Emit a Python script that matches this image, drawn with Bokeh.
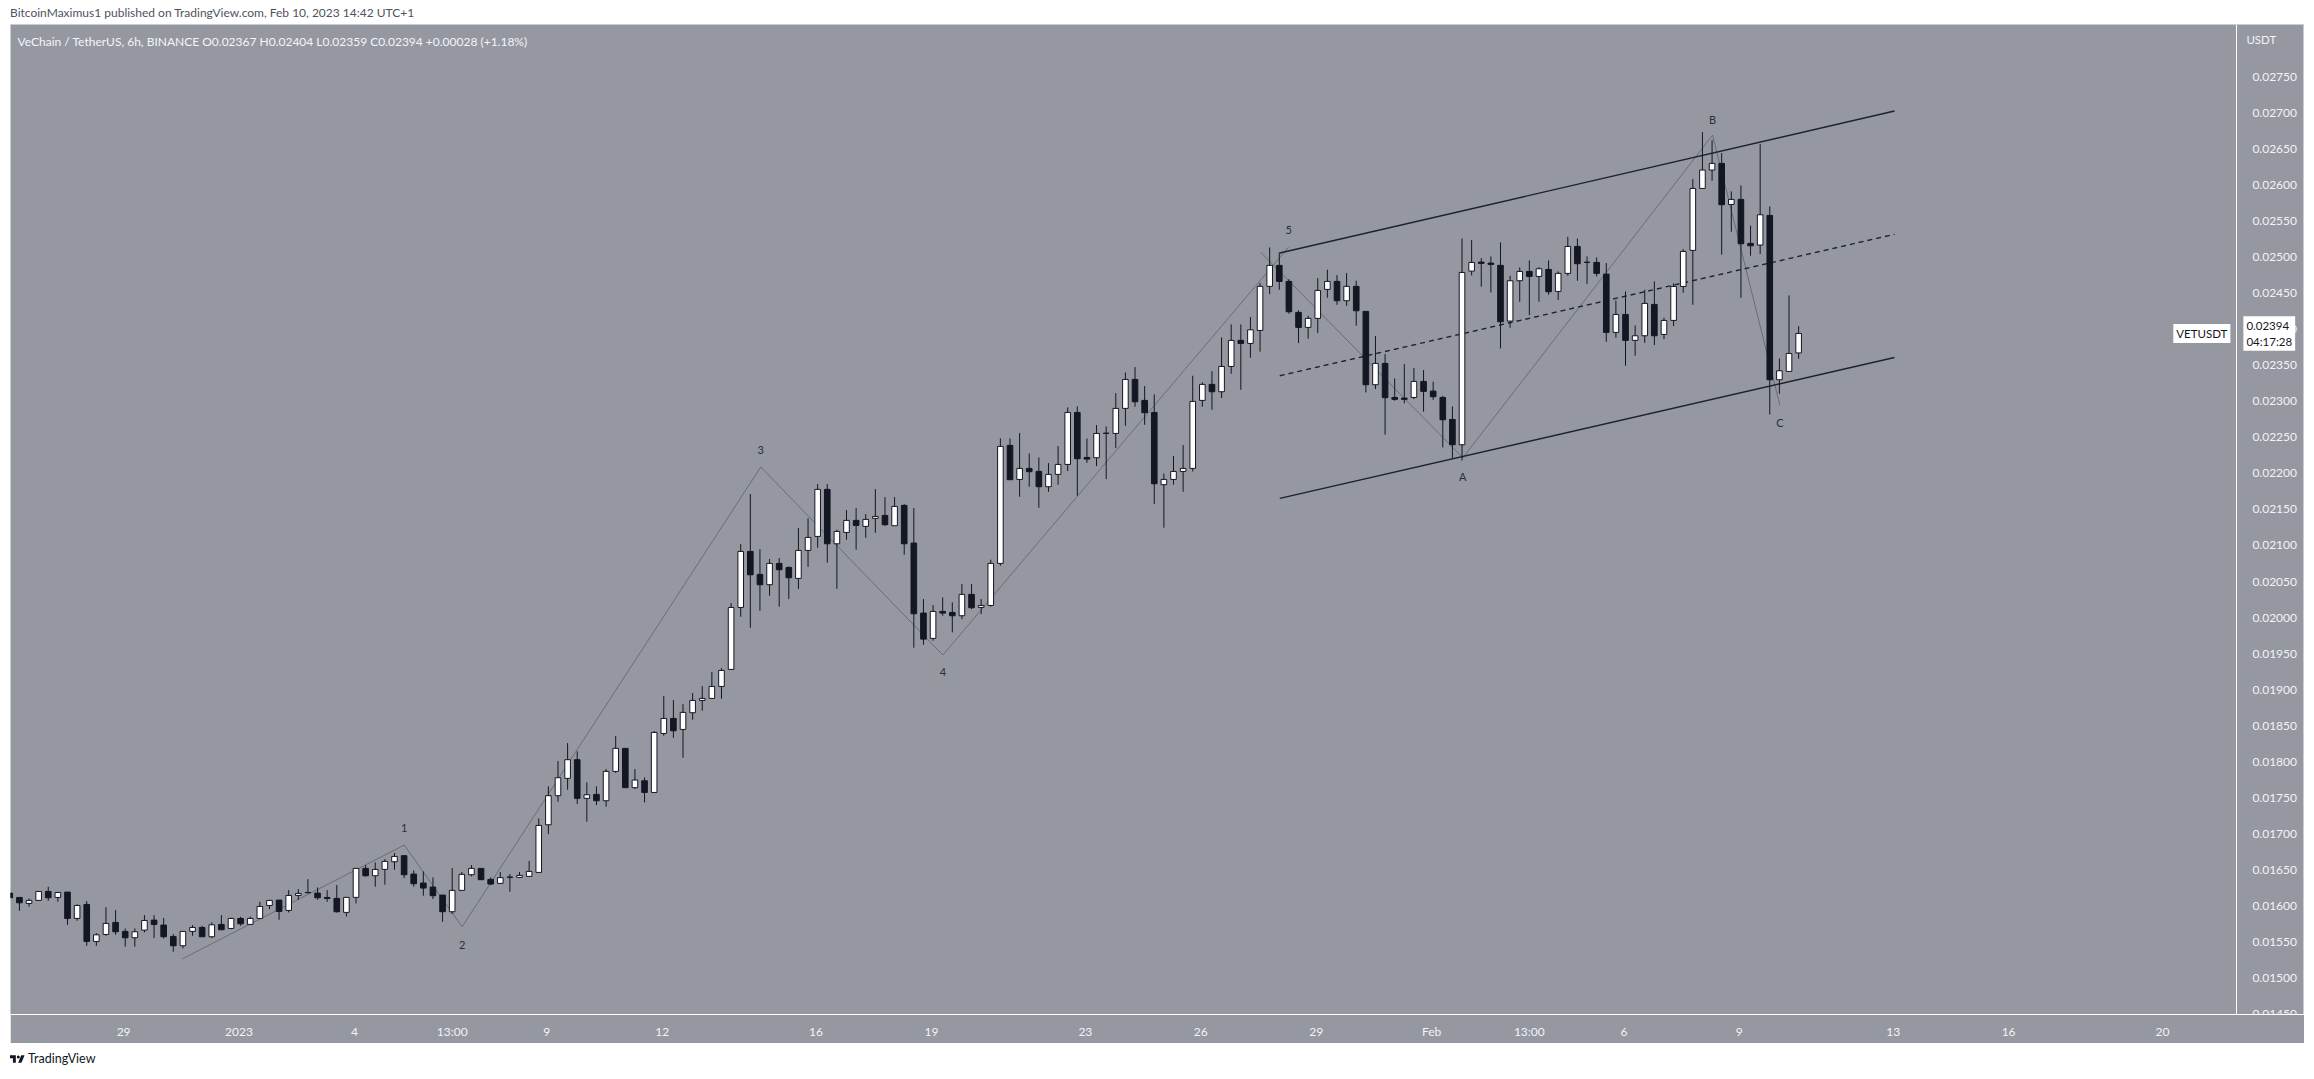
from bokeh.plotting import figure
from bokeh.models import (Range1d, FixedTicker, PrintfTickFormatter, Label, Div,
                          ColumnDataSource)
from bokeh.layouts import column
from bokeh.embed import file_html
from bokeh.resources import INLINE
from bokeh.core.properties import value

# ---------------- data (VET/USDT, 6h candles from Dec 26 01:00 UTC+1) ----------------
opens = [0.016180, 0.016120, 0.016037, 0.016079, 0.016203, 0.016120, 0.016194, 0.015829, 0.016023, 0.015510,
         0.015607, 0.015774, 0.015649, 0.015561, 0.015667, 0.015806, 0.015737, 0.015579, 0.015450, 0.015649,
         0.015704, 0.015575, 0.015746, 0.015690, 0.015829, 0.015746, 0.015829, 0.016009, 0.016083, 0.015940,
         0.016148, 0.016189, 0.016180, 0.016120, 0.016107, 0.015913, 0.016121, 0.016523, 0.016421, 0.016509,
         0.016615, 0.016699, 0.016444, 0.016320, 0.016264, 0.016153, 0.015922, 0.016218, 0.016435, 0.016523,
         0.016370, 0.016315, 0.016398, 0.016398, 0.016412, 0.016467, 0.017128, 0.017531, 0.017771, 0.018030,
         0.017494, 0.017549, 0.017461, 0.017868, 0.018187, 0.017642, 0.017738, 0.017576, 0.018394, 0.018602,
         0.018450, 0.018681, 0.018852, 0.018880, 0.019046, 0.019282, 0.020141, 0.020918, 0.020599, 0.020456,
         0.020752, 0.020696, 0.020544, 0.020932, 0.021126, 0.021778, 0.021024, 0.021181, 0.021348, 0.021265,
         0.021376, 0.021417, 0.021274, 0.021556, 0.021034, 0.020063, 0.019712, 0.020086, 0.020072, 0.020026,
         0.020322, 0.020141, 0.020169, 0.020752, 0.022388, 0.021916, 0.022069, 0.022027, 0.021815, 0.021986,
         0.022124, 0.022845, 0.022221, 0.022217, 0.022554, 0.022554, 0.022901, 0.023303, 0.023012, 0.022845,
         0.021843, 0.021916, 0.022027, 0.022069, 0.023012, 0.023234, 0.023132, 0.023483, 0.023844, 0.023802,
         0.023982, 0.024593, 0.024884, 0.024662, 0.024232, 0.024024, 0.024149, 0.024551, 0.024662, 0.024394,
         0.024593, 0.024246, 0.023229, 0.023525, 0.023053, 0.023044, 0.023053, 0.023275, 0.023141, 0.023053,
         0.022748, 0.022397, 0.024805, 0.024930, 0.024916, 0.024884, 0.024112, 0.024671, 0.024800, 0.024731,
         0.024828, 0.024523, 0.024773, 0.025147, 0.024925, 0.024925, 0.024763, 0.023955, 0.024204, 0.023844,
         0.023908, 0.024343, 0.023927, 0.024121, 0.024592, 0.025092, 0.025951, 0.026206, 0.026298, 0.025729,
         0.025799, 0.025189, 0.025166, 0.025577, 0.023298, 0.023414, 0.023670]
highs = [0.016180, 0.016120, 0.016106, 0.016203, 0.016268, 0.016189, 0.016194, 0.016023, 0.016069, 0.015626,
         0.015986, 0.015944, 0.015690, 0.015690, 0.015875, 0.015875, 0.015834, 0.015612, 0.015649, 0.015737,
         0.015727, 0.015774, 0.015875, 0.015840, 0.015852, 0.015855, 0.016060, 0.016085, 0.016083, 0.016222,
         0.016236, 0.016374, 0.016259, 0.016222, 0.016292, 0.016121, 0.016523, 0.016569, 0.016606, 0.016652,
         0.016736, 0.016708, 0.016495, 0.016481, 0.016398, 0.016153, 0.016528, 0.016472, 0.016569, 0.016523,
         0.016398, 0.016472, 0.016444, 0.016472, 0.016625, 0.017216, 0.017660, 0.018011, 0.018261, 0.018145,
         0.017716, 0.017660, 0.017900, 0.018358, 0.018187, 0.017900, 0.017784, 0.018427, 0.018912, 0.018857,
         0.018801, 0.018954, 0.019051, 0.019245, 0.019300, 0.020202, 0.021020, 0.021713, 0.020950, 0.020812,
         0.020826, 0.020710, 0.021241, 0.021376, 0.021852, 0.021852, 0.021218, 0.021491, 0.021519, 0.021436,
         0.021782, 0.021671, 0.021671, 0.021574, 0.021519, 0.020257, 0.020174, 0.020280, 0.020211, 0.020465,
         0.020465, 0.020257, 0.020803, 0.022485, 0.022485, 0.022559, 0.022277, 0.022221, 0.022143, 0.022379,
         0.022915, 0.022929, 0.022485, 0.022670, 0.022651, 0.023113, 0.023400, 0.023474, 0.023210, 0.023095,
         0.021999, 0.022240, 0.022392, 0.023354, 0.023261, 0.023418, 0.023885, 0.024066, 0.024066, 0.024167,
         0.024639, 0.025133, 0.025064, 0.024694, 0.024260, 0.024186, 0.024708, 0.024824, 0.024750, 0.024777,
         0.024671, 0.024246, 0.023904, 0.023654, 0.023317, 0.023515, 0.023460, 0.023432, 0.023271, 0.023076,
         0.022929, 0.025258, 0.025235, 0.024985, 0.025008, 0.025203, 0.024740, 0.024856, 0.024953, 0.024860,
         0.024953, 0.024800, 0.025281, 0.025258, 0.025008, 0.024995, 0.024916, 0.024398, 0.024523, 0.024052,
         0.024546, 0.024662, 0.024158, 0.024634, 0.025110, 0.026081, 0.026732, 0.026621, 0.026441, 0.025910,
         0.025993, 0.025434, 0.026566, 0.025702, 0.023594, 0.024468, 0.024040]
lows = [0.016116, 0.015935, 0.015991, 0.016079, 0.016074, 0.016060, 0.015741, 0.015797, 0.015450, 0.015450,
        0.015589, 0.015602, 0.015436, 0.015436, 0.015635, 0.015556, 0.015552, 0.015367, 0.015413, 0.015589,
        0.015575, 0.015556, 0.015672, 0.015680, 0.015727, 0.015737, 0.015820, 0.015958, 0.015810, 0.015912,
        0.016088, 0.016180, 0.016088, 0.016060, 0.015910, 0.015857, 0.016038, 0.016407, 0.016269, 0.016297,
        0.016505, 0.016389, 0.016269, 0.016144, 0.016098, 0.015783, 0.015890, 0.016218, 0.016412, 0.016366,
        0.016292, 0.016315, 0.016199, 0.016398, 0.016412, 0.016467, 0.016999, 0.017447, 0.017614, 0.017415,
        0.017170, 0.017401, 0.017378, 0.017845, 0.017642, 0.017623, 0.017438, 0.017576, 0.018362, 0.018334,
        0.018057, 0.018584, 0.018709, 0.018880, 0.018875, 0.019282, 0.020012, 0.019860, 0.020095, 0.020303,
        0.020151, 0.020257, 0.020396, 0.020705, 0.020969, 0.020761, 0.020400, 0.021080, 0.020941, 0.021107,
        0.021177, 0.021274, 0.021274, 0.020872, 0.019582, 0.019624, 0.019679, 0.020026, 0.019795, 0.019980,
        0.020118, 0.020049, 0.020151, 0.020719, 0.021912, 0.021676, 0.021815, 0.021523, 0.021745, 0.021843,
        0.022032, 0.021690, 0.022147, 0.022101, 0.021921, 0.022351, 0.022661, 0.022924, 0.022674, 0.021574,
        0.021246, 0.021843, 0.021745, 0.022027, 0.022924, 0.022882, 0.023044, 0.023381, 0.023160, 0.023603,
        0.023687, 0.024486, 0.024546, 0.024214, 0.023807, 0.023867, 0.023945, 0.024435, 0.024338, 0.024324,
        0.024047, 0.023123, 0.023169, 0.022536, 0.023007, 0.022970, 0.023030, 0.022855, 0.023021, 0.022360,
        0.022208, 0.022180, 0.024745, 0.024588, 0.024509, 0.023733, 0.024019, 0.024380, 0.024195, 0.024380,
        0.024477, 0.024403, 0.024740, 0.024671, 0.024625, 0.024731, 0.023825, 0.023881, 0.023492, 0.023631,
        0.023811, 0.023779, 0.023862, 0.024042, 0.024505, 0.024338, 0.025951, 0.026058, 0.025032, 0.025350,
        0.024435, 0.025018, 0.025041, 0.022817, 0.023104, 0.023414, 0.023590]
closes = [0.016116, 0.016046, 0.016079, 0.016203, 0.016116, 0.016189, 0.015829, 0.016009, 0.015510, 0.015602,
          0.015760, 0.015644, 0.015561, 0.015644, 0.015801, 0.015746, 0.015575, 0.015450, 0.015649, 0.015704,
          0.015575, 0.015741, 0.015672, 0.015829, 0.015755, 0.015829, 0.015995, 0.016079, 0.015926, 0.016148,
          0.016176, 0.016185, 0.016116, 0.016106, 0.015922, 0.016121, 0.016523, 0.016421, 0.016509, 0.016620,
          0.016689, 0.016435, 0.016310, 0.016250, 0.016144, 0.015922, 0.016218, 0.016440, 0.016523, 0.016366,
          0.016306, 0.016394, 0.016403, 0.016426, 0.016481, 0.017119, 0.017531, 0.017780, 0.018030, 0.017494,
          0.017544, 0.017461, 0.017868, 0.018187, 0.017642, 0.017748, 0.017576, 0.018408, 0.018602, 0.018431,
          0.018686, 0.018852, 0.018880, 0.019046, 0.019268, 0.020141, 0.020918, 0.020594, 0.020456, 0.020752,
          0.020664, 0.020553, 0.020932, 0.021112, 0.021778, 0.021024, 0.021195, 0.021348, 0.021278, 0.021362,
          0.021403, 0.021288, 0.021542, 0.021024, 0.020054, 0.019702, 0.020086, 0.020063, 0.020026, 0.020322,
          0.020137, 0.020169, 0.020752, 0.022374, 0.021912, 0.022069, 0.022023, 0.021815, 0.021986, 0.022124,
          0.022845, 0.022203, 0.022198, 0.022554, 0.022558, 0.022901, 0.023303, 0.022993, 0.022841, 0.021856,
          0.021916, 0.022027, 0.022069, 0.022998, 0.023234, 0.023132, 0.023483, 0.023844, 0.023802, 0.023991,
          0.024593, 0.024884, 0.024662, 0.024241, 0.024024, 0.024149, 0.024537, 0.024662, 0.024394, 0.024593,
          0.024255, 0.023229, 0.023525, 0.023049, 0.023026, 0.023026, 0.023275, 0.023137, 0.023063, 0.022744,
          0.022397, 0.024786, 0.024925, 0.024911, 0.024897, 0.024102, 0.024671, 0.024800, 0.024731, 0.024837,
          0.024518, 0.024773, 0.025147, 0.024907, 0.024928, 0.024773, 0.023955, 0.024204, 0.023844, 0.023908,
          0.024357, 0.023908, 0.024121, 0.024592, 0.025078, 0.025951, 0.026206, 0.026298, 0.025725, 0.025799,
          0.025184, 0.025156, 0.025586, 0.023298, 0.023423, 0.023663, 0.023940]

# time axis in hours since Dec 26 00:00 (UTC+1); 6h candles open at 01:00, 07:00, 13:00, 19:00
first_hour = 1
step_hours = 6

tick_hours = [72, 144, 216, 277, 336, 408, 504, 576, 672, 744, 816, 888, 949, 1008, 1080, 1176, 1248, 1344]
tick_labels = ["29", "2023", "4", "13:00", "9", "12", "16", "19", "23", "26", "29", "Feb", "13:00",
               "6", "9", "13", "16", "20"]
price_ticks = [0.0145, 0.0150, 0.0155, 0.0160, 0.0165, 0.0170, 0.0175, 0.0180, 0.0185, 0.0190,
               0.0195, 0.0200, 0.0205, 0.0210, 0.0215, 0.0220, 0.0225, 0.0230, 0.0235, 0.0240,
               0.0245, 0.0250, 0.0255, 0.0260, 0.0265, 0.0270, 0.0275]

# Elliott wave drawing (hours, price)
impulse_x = [108.7, 247.1, 283.2, 469.5, 583.1, 798.8]
impulse_y = [0.015270, 0.016846, 0.015713, 0.022089, 0.019481, 0.025138]
impulse_labels = ["", "1", "2", "3", "4", "5"]
abc_x = [781.3, 907.5, 1063.3, 1105.3]
abc_y = [0.025069, 0.022216, 0.026691, 0.022947]
abc_labels = ["", "A", "B", "C"]

# ascending channel (hours, price)
channel_x = [793.3, 1176.8]
channel_upper = [0.025055, 0.027024]
channel_mid = [0.023354, 0.025315]
channel_lower = [0.021653, 0.023606]

header = "BitcoinMaximus1 published on TradingView.com, Feb 10, 2023 14:42 UTC+1"
legend_text = ("VeChain / TetherUS, 6h, BINANCE  O0.02367  H0.02404  L0.02359  C0.02394  "
               "+0.00028 (+1.18%)")
symbol = "VETUSDT"
countdown = "04:17:28"

# ---------------- styling ----------------
BG = "#9598a1"
DARK = "#131722"
FONT = "Lato"

FIG_W = 2294
FRAME_H = 990
BOTTOM = 29
X_START, X_END = 1.44, 1432.6     # visible time window (hours)
SCALE_AT = 1390.1                 # where the price scale starts

xs = [first_hour + step_hours * i for i in range(len(opens))]
colors = ["white" if c >= o else DARK for o, c in zip(opens, closes)]
src = ColumnDataSource(dict(
    x=xs, open=opens, high=highs, low=lows, close=closes,
    top=[max(o, c) for o, c in zip(opens, closes)],
    bottom=[min(o, c) for o, c in zip(opens, closes)],
    color=colors,
))

p = figure(width=FIG_W, height=FRAME_H + BOTTOM,
           x_range=Range1d(X_START, X_END), y_range=Range1d(0.014497, 0.028224),
           output_backend="svg", toolbar_location=None, y_axis_location="right",
           min_border_left=0, min_border_top=0, min_border_right=0, min_border_bottom=BOTTOM,
           background_fill_color=BG, border_fill_color=BG,
           outline_line_color="#c9ccd4", margin=(0, 0, 0, 10))
p.grid.visible = False

xa = p.xaxis[0]
ya = p.yaxis[0]
for ax in (xa, ya):
    ax.axis_line_color = "white"
    ax.axis_line_width = 1
    ax.major_tick_line_color = None
    ax.minor_tick_line_color = None
    ax.major_label_text_color = "#f2f3f6"
    ax.major_label_text_font = FONT
    ax.major_label_text_font_size = "12px"
xa.ticker = FixedTicker(ticks=tick_hours)
xa.major_label_overrides = {h: lab for h, lab in zip(tick_hours, tick_labels)}
xa.major_label_standoff = 3
ya.ticker = FixedTicker(ticks=price_ticks)
ya.formatter = PrintfTickFormatter(format="%.5f")
ya.major_label_standoff = 10
ya.fixed_location = SCALE_AT

# wave drawings (behind candles)
p.line(impulse_x, impulse_y, line_color="#62656f", line_width=1, line_alpha=0.85)
p.line(abc_x, abc_y, line_color="#62656f", line_width=1, line_alpha=0.85)

# channel
p.line(channel_x, channel_upper, line_color="#1e222d", line_width=1.4)
p.line(channel_x, channel_lower, line_color="#1e222d", line_width=1.4)
p.line(channel_x, channel_mid, line_color="#1e222d", line_width=1.4, line_dash="5 4")

# candles
p.segment(x0="x", y0="low", x1="x", y1="high", source=src, line_color=DARK, line_width=1)
p.vbar(x="x", width=3.5, top="top", bottom="bottom", source=src,
       fill_color="color", line_color=DARK, line_width=1)

# wave labels
lab_src = ColumnDataSource(dict(
    x=impulse_x[1:] + abc_x[1:],
    y=impulse_y[1:] + abc_y[1:],
    t=impulse_labels[1:] + abc_labels[1:],
    off=[-17, 18, -17, 17, -17, 19, -16, 17],
))
p.text(x="x", y="y", text="t", y_offset="off", source=lab_src, text_align="center",
       text_baseline="middle", text_color="#2a2e39", text_font=value(FONT),
       text_font_size="11px")

# legend line in the pane
p.add_layout(Label(x=7, y=FRAME_H - 17, x_units="screen", y_units="screen", text=legend_text,
                   text_color="#f4f5f8", text_font=FONT, text_font_size="12px",
                   text_baseline="middle"))
# "USDT" on the price scale
p.add_layout(Label(x=SCALE_AT, y=FRAME_H - 15, y_units="screen", x_offset=10,
                   text="USDT", text_color="#f2f3f6", text_font=FONT, text_font_size="11.5px",
                   text_baseline="middle"))

extra = {}
if "padding" in Label.properties():
    extra["padding"] = 3
pad = extra.get("padding", 0)
# symbol tag and last price tag
p.add_layout(Label(x=SCALE_AT, y=closes[-1], x_offset=-(3 + pad), text=symbol,
                   text_color=DARK, text_font=FONT, text_font_size="11.5px",
                   text_align="right", text_baseline="middle",
                   background_fill_color="white", **extra))
p.add_layout(Label(x=SCALE_AT, y=closes[-1], x_offset=4 + pad,
                   text="%.5f\n%s" % (closes[-1], countdown),
                   text_color=DARK, text_font=FONT, text_font_size="11.5px",
                   text_align="left", text_baseline="middle",
                   background_fill_color="white", **extra))

head = Div(text=header, width=700, height=24, margin=(0, 0, 0, 10),
           styles={"font-family": "Lato, sans-serif", "font-size": "12px", "color": "#50535e",
                   "line-height": "26px"})
logo = ('<div style="display:flex;align-items:center;height:32px;gap:3px;">'
        '<svg width="15" height="10" viewBox="0 0 36 24">'
        '<path d="M14 21H7V10H0V3h14v18z" fill="#131722"/>'
        '<circle cx="20" cy="7" r="3.6" fill="#131722"/>'
        '<path d="M27.5 21h-8l7.5-18h8z" fill="#131722"/></svg>'
        '<span>TradingView</span></div>')
foot = Div(text=logo, width=300, height=32, margin=(0, 0, 0, 10),
           styles={"font-family": "Lato, sans-serif", "font-size": "12.5px", "color": "#131722"})

layout = column(head, p, foot, spacing=0)
open("out.html", "w").write(file_html(layout, INLINE))
